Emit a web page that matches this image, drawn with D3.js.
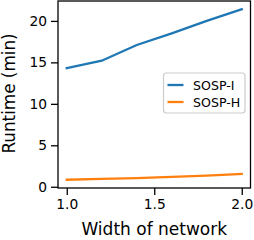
<!doctype html>
<html>
<head>
<meta charset="UTF-8">
<title>runtime vs width</title>
<script src="https://d3js.org/d3.v7.min.js"></script>
<style>
  body { margin: 0; background: #fff; }
  svg { display: block; font-family: "DejaVu Sans", sans-serif; }
</style>
</head>
<body>
<svg width="254" height="240"></svg>
<script>
// data
var widths = [1.0, 1.2, 1.4, 1.6, 1.8, 2.0];
var sospI = [14.3, 15.2, 17.1, 18.5, 20.0, 21.4];
var sospH = [0.85, 0.95, 1.05, 1.2, 1.35, 1.55];
var seriesNames = ["SOSP-I", "SOSP-H"];
var seriesColors = ["#1f77b4", "#ff7f0e"];
var xTicks = [1.0, 1.5, 2.0];
var yTicks = [0, 5, 10, 15, 20];

var svg = d3.select("svg");
// plot box (note: "top" is reserved on window, so use other names)
var plotL = 58, plotR = 250.5, plotT = 1, plotB = 188;

var x = d3.scaleLinear().domain([0.95, 2.05]).range([plotL, plotR]);
var y = d3.scaleLinear().domain([-0.15, 22.4]).range([plotB, plotT]);

var line = d3.line()
    .x(function(d) { return x(d[0]); })
    .y(function(d) { return y(d[1]); });

[sospI, sospH].forEach(function(vals, i) {
    svg.append("path")
        .datum(widths.map(function(w, j) { return [w, vals[j]]; }))
        .attr("d", line)
        .attr("fill", "none")
        .attr("stroke", seriesColors[i])
        .attr("stroke-width", 2.3)
        .attr("stroke-linecap", "square");
});

// axes
var xAxis = svg.append("g")
    .attr("transform", "translate(0," + plotB + ")")
    .call(d3.axisBottom(x).tickValues(xTicks).tickFormat(d3.format(".1f")).tickSize(7).tickPadding(4));
var yAxis = svg.append("g")
    .attr("transform", "translate(" + plotL + ",0)")
    .call(d3.axisLeft(y).tickValues(yTicks).tickSize(7).tickPadding(4));

[xAxis, yAxis].forEach(function(g) {
    g.select(".domain").remove();
    g.selectAll(".tick line").attr("stroke", "#000").attr("stroke-width", 1.3);
    g.selectAll(".tick text")
        .attr("fill", "#000")
        .style("font-size", "13.8px")
        .style("font-family", "DejaVu Sans");
});

// frame
svg.append("rect")
    .attr("x", plotL).attr("y", plotT)
    .attr("width", plotR - plotL).attr("height", plotB - plotT)
    .attr("fill", "none")
    .attr("stroke", "#000")
    .attr("stroke-width", 1.3);

// axis labels
svg.append("text")
    .attr("x", (plotL + plotR) / 2)
    .attr("y", 235)
    .attr("text-anchor", "middle")
    .style("font-size", "17px")
    .text("Width of network");

svg.append("text")
    .attr("transform", "translate(15," + ((plotT + plotB) / 2 - 1) + ") rotate(-90)")
    .attr("text-anchor", "middle")
    .style("font-size", "16.8px")
    .text("Runtime (min)");

// legend
var lg = svg.append("g");
lg.append("rect")
    .attr("x", 163.5).attr("y", 73)
    .attr("width", 81.5).attr("height", 40)
    .attr("rx", 3)
    .attr("fill", "#fff")
    .attr("fill-opacity", 0.8)
    .attr("stroke", "#cccccc")
    .attr("stroke-width", 1.2);

seriesNames.forEach(function(name, i) {
    var yy = 85 + i * 17;
    lg.append("line")
        .attr("x1", 167.5).attr("x2", 183.5)
        .attr("y1", yy).attr("y2", yy)
        .attr("stroke", seriesColors[i])
        .attr("stroke-width", 2.3);
    lg.append("text")
        .attr("x", 193)
        .attr("y", yy + 4.5)
        .style("font-size", "12.6px")
        .text(name);
});
</script>
</body>
</html>
